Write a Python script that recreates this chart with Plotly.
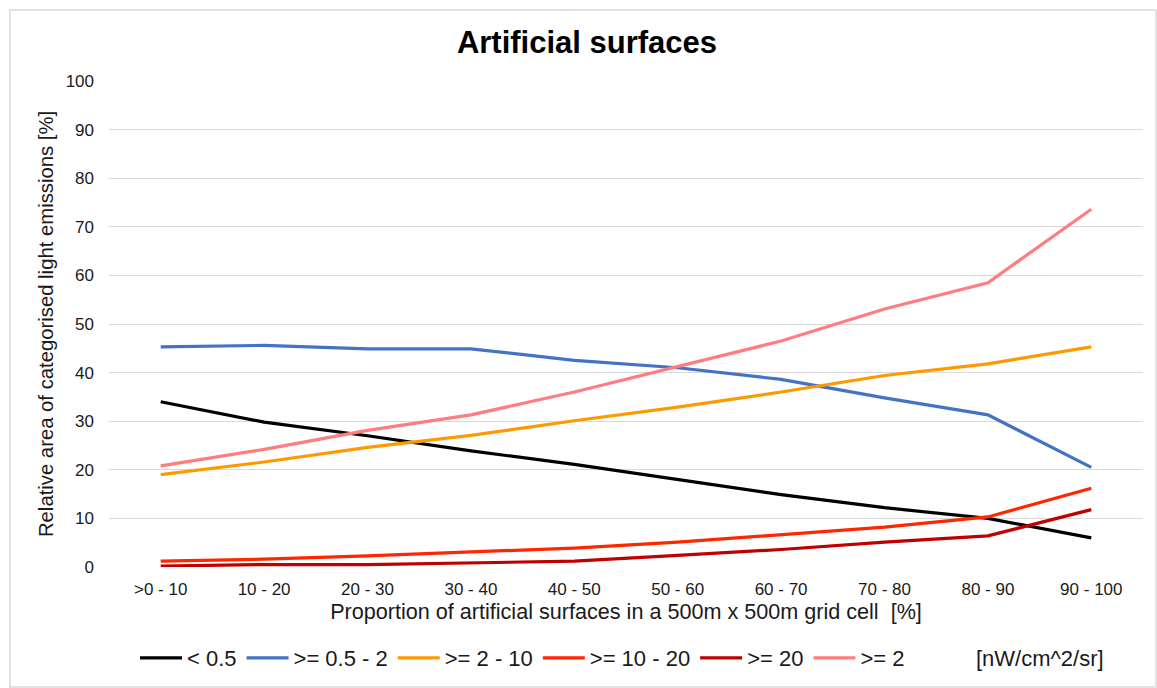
import plotly.graph_objects as go

# Classes of artificial-surface share per grid cell
categories = [">0 - 10", "10 - 20", "20 - 30", "30 - 40", "40 - 50",
              "50 - 60", "60 - 70", "70 - 80", "80 - 90", "90 - 100"]

# Relative area [%] of each light-emission class
lt_0_5 = [34.0, 29.8, 27.0, 23.9, 21.1, 18.0, 14.9, 12.2, 10.0, 6.0]
ge_0_5_2 = [45.3, 45.6, 44.9, 44.9, 42.5, 41.0, 38.6, 34.8, 31.3, 20.5]
ge_2_10 = [19.0, 21.6, 24.6, 27.1, 30.1, 32.9, 36.0, 39.4, 41.8, 45.3]
ge_10_20 = [1.2, 1.6, 2.3, 3.1, 3.9, 5.1, 6.6, 8.2, 10.3, 16.2]
ge_20 = [0.2, 0.5, 0.5, 0.8, 1.2, 2.4, 3.6, 5.1, 6.4, 11.8]
ge_2 = [20.8, 24.2, 28.1, 31.3, 36.0, 41.2, 46.5, 53.1, 58.5, 73.6]

series = [
    ("< 0.5", lt_0_5, "#000000"),
    (">= 0.5 - 2", ge_0_5_2, "#4472C4"),
    (">= 2 - 10", ge_2_10, "#FF9900"),
    (">= 10 - 20", ge_10_20, "#FF2600"),
    (">= 20", ge_20, "#C00000"),
    (">= 2", ge_2, "#FF7C80"),
]

FONT = "Liberation Sans, Arial, sans-serif"

fig = go.Figure()
for name, vals, color in series:
    fig.add_trace(go.Scatter(
        x=categories, y=vals, name=name, mode="lines",
        line=dict(color=color, width=3.2),
    ))

W, H = 1157, 688
ml, mr, mt, mb = 109, 14, 81, 121
pw, ph = W - ml - mr, H - mt - mb


def px_x(p):
    return (p - ml) / pw


def px_y(p):
    return (H - mb - p) / ph


fig.update_layout(
    width=W, height=H,
    margin=dict(l=ml, r=mr, t=mt, b=mb, pad=0, autoexpand=False),
    paper_bgcolor="white", plot_bgcolor="white",
    font=dict(family=FONT, color="#1a1a1a"),
    title=dict(text="<b>Artificial surfaces</b>", x=px_x(587), xanchor="center",
               y=1 - 42 / H, yanchor="middle", xref="paper",
               font=dict(size=31, color="#000000", family=FONT)),
    xaxis=dict(
        type="category", range=[-0.5, 9.5], automargin=False,
        showgrid=False, showline=False, zeroline=False,
        ticks="", tickfont=dict(size=17), ticklabelstandoff=10,
        title=dict(text="Proportion of artificial surfaces in a 500m x 500m grid cell  [%]",
                   font=dict(size=21.6), standoff=5),
    ),
    yaxis=dict(
        range=[0, 100], dtick=10, automargin=False,
        showgrid=True, gridcolor="#D9D9D9",
        gridwidth=1.3, zeroline=False, showline=False, ticks="",
        tickfont=dict(size=17), ticklabelstandoff=14,
        title=dict(text="Relative area of categorised light emissions [%]",
                   font=dict(size=20.3), standoff=6),
    ),
    legend=dict(orientation="h", x=px_x(135), xanchor="left",
                y=px_y(658), yanchor="middle",
                font=dict(size=22), itemwidth=42, tracegroupgap=0,
                bgcolor="rgba(0,0,0,0)"),
    showlegend=True,
)

fig.add_annotation(text="[nW/cm^2/sr]", xref="paper", yref="paper",
                   x=px_x(1040), y=px_y(658), xanchor="center", yanchor="middle",
                   showarrow=False, font=dict(size=22, family=FONT, color="#1a1a1a"))

# Light chart border
fig.add_shape(type="rect", xref="paper", yref="paper",
              x0=px_x(10), y0=px_y(687), x1=px_x(1156), y1=px_y(10),
              line=dict(color="#D9D9D9", width=1.5), layer="below")

fig.write_html("out.html")
